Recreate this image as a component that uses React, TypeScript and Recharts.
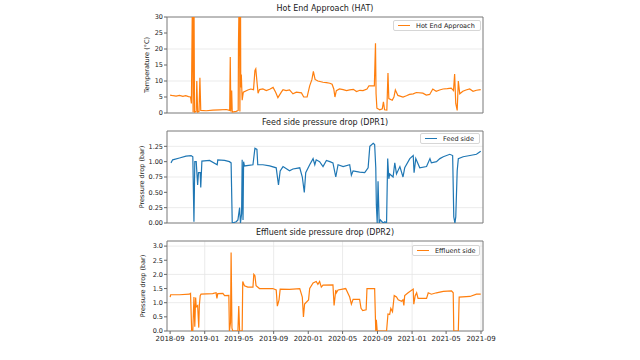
import React from 'react';
import { LineChart, Line, XAxis, YAxis, CartesianGrid, ReferenceArea } from 'recharts';

const FONT = '"DejaVu Sans", sans-serif';
const ORANGE = '#ff7f0e';
const BLUE = '#1f77b4';

const xTickLabels = ['2018-09', '2019-01', '2019-05', '2019-09', '2020-01', '2020-05', '2020-09', '2021-01', '2021-05', '2021-09'];
const xStart = '2018-08-21';
const xEnd = '2021-09-08';

const hatDates = [
  '2018-09-01', '2018-09-12', '2018-09-22', '2018-10-04', '2018-10-16', '2018-10-26', '2018-11-05', '2018-11-12',
  '2018-11-15', '2018-11-19', '2018-11-21', '2018-11-24', '2018-11-26', '2018-12-02', '2018-12-04', '2018-12-07',
  '2018-12-12', '2018-12-15', '2018-12-18', '2019-01-06', '2019-01-30', '2019-02-22', '2019-03-18', '2019-03-30',
  '2019-04-01', '2019-04-03', '2019-04-06', '2019-04-08', '2019-04-22', '2019-04-29', '2019-04-30', '2019-05-03',
  '2019-05-05', '2019-05-07', '2019-05-08', '2019-05-10', '2019-05-13', '2019-05-17', '2019-06-02', '2019-06-12',
  '2019-06-22', '2019-06-27', '2019-06-30', '2019-07-05', '2019-07-08', '2019-07-13', '2019-07-25', '2019-08-06',
  '2019-08-18', '2019-08-30', '2019-09-08', '2019-09-16', '2019-09-28', '2019-10-04', '2019-10-15', '2019-10-27',
  '2019-11-08', '2019-11-20', '2019-12-08', '2019-12-16', '2019-12-28', '2020-01-06', '2020-01-14', '2020-01-19',
  '2020-01-25', '2020-02-04', '2020-02-22', '2020-03-05', '2020-03-17', '2020-03-25', '2020-03-31', '2020-04-04',
  '2020-04-09', '2020-04-20', '2020-05-03', '2020-05-15', '2020-05-26', '2020-06-08', '2020-06-19', '2020-07-01',
  '2020-07-12', '2020-07-26', '2020-08-02', '2020-08-21', '2020-08-25', '2020-08-27', '2020-08-30', '2020-09-09',
  '2020-09-18', '2020-09-22', '2020-09-26', '2020-10-04', '2020-10-08', '2020-10-11', '2020-10-23', '2020-10-29',
  '2020-11-03', '2020-11-12', '2020-11-30', '2020-12-12', '2020-12-23', '2021-01-05', '2021-01-16', '2021-02-08',
  '2021-02-20', '2021-03-04', '2021-03-15', '2021-03-27', '2021-04-08', '2021-04-20', '2021-05-05', '2021-05-19',
  '2021-05-27', '2021-05-31', '2021-06-04', '2021-06-09', '2021-06-13', '2021-06-18', '2021-06-29', '2021-07-10',
  '2021-07-23', '2021-08-04', '2021-08-16', '2021-08-31',
];
const hatValues = [
  5.6, 5.4, 5.3, 5.5, 5.2, 5.4, 5.1, 5.0,
  3.0, 40, 0.2, 40, 0.3, 0.5, 10, 0.3,
  0.5, 11, 0.8, 0.7, 0.9, 1.0, 1.1, 0.8,
  17.5, 0.5, 7, 0.3, 0.5, 0.8, 22, 40,
  0.5, 40, 8, 12, 4, 6.5, 7.2, 7.5,
  7.3, 13.3, 13.8, 9, 6.2, 7.3, 7.5, 7.0,
  7.4, 8.0, 6.5, 4.8, 6.5, 7.3, 7.0, 7.2,
  6.0, 6.5, 6.3, 5.0, 5.0, 8.5, 10.5, 13,
  10.5, 10, 9.6, 9.5, 9.3, 9, 7.5, 5,
  7.0, 7.5, 7.3, 7.0, 7.2, 7.4, 6.7, 7.1,
  7.0, 7.5, 8.5, 8.5, 21.8, 6, 1.5, 1.0,
  1.3, 3.5, 1.0, 0.9, 12.5, 4.5, 4, 5,
  7.2, 5.5, 5.0, 5.4, 5.8, 6.0, 6.4, 6.2,
  5.6, 5.8, 7.5, 6.8, 7.2, 7.5, 7.6, 7.8,
  7.0, 12.2, 3, 0.8, 10, 6, 6.8, 7.2,
  7.5, 6.8, 7.1, 7.3,
];

const dpr1Dates = [
  '2018-09-04', '2018-09-10', '2018-10-04', '2018-10-27', '2018-11-14', '2018-11-20', '2018-11-24', '2018-11-27',
  '2018-12-02', '2018-12-07', '2018-12-10', '2018-12-16', '2018-12-18', '2018-12-22', '2019-01-18', '2019-02-14',
  '2019-02-16', '2019-03-12', '2019-03-29', '2019-04-04', '2019-04-08', '2019-04-22', '2019-04-28', '2019-05-04',
  '2019-05-07', '2019-05-11', '2019-05-13', '2019-05-16', '2019-05-18', '2019-05-21', '2019-06-20', '2019-06-27',
  '2019-07-04', '2019-07-07', '2019-07-25', '2019-08-18', '2019-09-10', '2019-09-18', '2019-09-24', '2019-10-04',
  '2019-10-27', '2019-11-08', '2019-12-02', '2019-12-11', '2019-12-18', '2019-12-23', '2020-01-06', '2020-01-18',
  '2020-01-24', '2020-01-29', '2020-02-10', '2020-02-22', '2020-03-05', '2020-03-17', '2020-03-28', '2020-04-07',
  '2020-04-15', '2020-05-03', '2020-05-26', '2020-06-01', '2020-06-07', '2020-06-30', '2020-07-18', '2020-07-30',
  '2020-08-05', '2020-08-17', '2020-08-22', '2020-08-26', '2020-08-28', '2020-08-31', '2020-09-03', '2020-09-07',
  '2020-09-11', '2020-09-21', '2020-09-27', '2020-10-03', '2020-10-07', '2020-10-11', '2020-10-14', '2020-10-26',
  '2020-11-01', '2020-11-07', '2020-11-19', '2020-11-30', '2020-12-06', '2020-12-24', '2021-01-05', '2021-01-08',
  '2021-01-14', '2021-01-28', '2021-02-21', '2021-03-05', '2021-03-10', '2021-03-28', '2021-04-09', '2021-04-21',
  '2021-05-14', '2021-05-24', '2021-05-28', '2021-06-01', '2021-06-04', '2021-06-09', '2021-06-13', '2021-06-30',
  '2021-07-24', '2021-08-16', '2021-08-31',
];
const dpr1Values = [
  0.98, 1.03, 1.06, 1.09, 1.10, 1.08, 0.02, 1.0,
  1.0, 0.62, 0.82, 0.82, 0.58, 1.01, 1.02, 0.95,
  1.03, 1.02, 1.0, 0.98, 0.0, 0.02, 0.05, 0.25,
  0.0, 0.15, 1.03, 0.05, 1.0, 0.93, 0.95, 1.22,
  1.2, 0.95, 0.95, 0.93, 0.9, 0.62, 0.85, 0.92,
  0.85, 0.88, 0.9, 0.75, 0.5, 0.82, 0.95, 1.05,
  0.95, 1.03, 1.0, 0.92, 1.02, 1.0, 0.98, 0.75,
  0.95, 0.92, 0.95, 0.78, 0.85, 0.83, 0.82, 0.9,
  1.25, 1.30, 1.28, 0.9, 0.3, 0.0, 0.68, 0.0,
  0.05, 0.0, 0.02, 0.0, 1.05, 0.72, 0.8, 0.75,
  0.98, 0.8, 0.92, 0.75, 0.9, 1.05, 1.1, 0.82,
  1.05, 0.9, 0.92, 1.05, 0.98, 1.0, 1.05, 1.08,
  1.12, 1.1, 0.1, 0.0, 0.1, 0.85, 1.05, 1.08,
  1.1, 1.12, 1.17,
];

const dpr2Dates = [
  '2018-09-01', '2018-09-03', '2018-10-04', '2018-11-08', '2018-11-12', '2018-11-16', '2018-11-20', '2018-11-24',
  '2018-11-27', '2018-11-30', '2018-12-02', '2018-12-07', '2018-12-11', '2018-12-13', '2018-12-16', '2018-12-19',
  '2019-01-29', '2019-02-10', '2019-02-13', '2019-02-16', '2019-03-06', '2019-03-12', '2019-03-27', '2019-03-29',
  '2019-04-02', '2019-04-04', '2019-04-07', '2019-04-10', '2019-04-28', '2019-05-01', '2019-05-04', '2019-05-13',
  '2019-05-15', '2019-05-21', '2019-06-02', '2019-06-20', '2019-06-23', '2019-06-27', '2019-07-01', '2019-07-13',
  '2019-08-29', '2019-09-10', '2019-09-14', '2019-09-20', '2019-09-24', '2019-10-27', '2019-12-02', '2019-12-11',
  '2019-12-15', '2019-12-19', '2020-01-02', '2020-01-06', '2020-01-18', '2020-01-29', '2020-02-04', '2020-02-10',
  '2020-02-16', '2020-02-22', '2020-03-28', '2020-04-01', '2020-04-07', '2020-04-09', '2020-04-15', '2020-05-12',
  '2020-05-26', '2020-06-01', '2020-06-07', '2020-06-30', '2020-07-05', '2020-07-11', '2020-07-23', '2020-07-26',
  '2020-08-22', '2020-08-26', '2020-08-28', '2020-08-31', '2020-10-03', '2020-10-08', '2020-10-14', '2020-10-18',
  '2020-10-24', '2020-10-30', '2020-11-07', '2020-11-13', '2020-11-25', '2020-11-30', '2020-12-03', '2020-12-06',
  '2020-12-18', '2021-01-05', '2021-01-07', '2021-01-12', '2021-01-17', '2021-01-22', '2021-02-21', '2021-02-27',
  '2021-03-10', '2021-03-28', '2021-04-21', '2021-05-20', '2021-05-26', '2021-05-28', '2021-06-13', '2021-06-16',
  '2021-07-24', '2021-08-16', '2021-08-31',
];
const dpr2Values = [
  1.2, 1.28, 1.28, 1.3, 1.33, 0.0, 0.0, 1.2,
  0.15, 1.18, 0.85, 0.9, 0.12, 0.9, 1.25, 1.3,
  1.32, 1.35, 1.15, 1.32, 1.33, 1.25, 1.26, 0.0,
  0.3, 2.77, 0.1, 0.0, 0.0, 0.88, 0.0, 0.0,
  1.75, 1.6, 1.55, 1.55, 2.0, 1.95, 1.6, 1.5,
  1.5, 1.45, 0.88, 1.1, 1.48, 1.47, 1.5, 1.2,
  0.5, 0.95, 1.1, 1.5, 1.7, 1.75, 1.65, 1.75,
  1.55, 1.62, 1.63, 0.9, 1.45, 1.35, 1.45, 1.5,
  1.2, 0.95, 1.12, 1.12, 0.8, 0.72, 0.75, 1.5,
  1.5, 0.0, 0.4, 0.0, 0.0, 0.6, 0.58, 0.8,
  0.68, 1.25, 1.2, 1.1, 1.05, 1.1, 0.9, 1.25,
  1.35, 1.48, 0.95, 1.25, 1.35, 1.15, 1.15, 1.35,
  1.3, 1.35, 1.4, 1.42, 1.35, 0.0, 0.0, 1.2,
  1.22, 1.3, 1.3,
];

const hatTicks = [0, 5, 10, 15, 20, 25, 30];
const dpr1Ticks = [0, 0.25, 0.5, 0.75, 1.0, 1.25];
const dpr2Ticks = [0, 0.5, 1.0, 1.5, 2.0, 2.5, 3.0];

const toT = (d: string) => Date.parse(d);
const xTicks = xTickLabels.map((m) => toT(m + '-01'));
const xDomain = [toT(xStart), toT(xEnd)];

const build = (dates: string[], values: number[]) => dates.map((d, i) => ({ t: toT(d), v: values[i] }));

interface PanelProps {
  top: number;
  height: number;
  data: { t: number; v: number }[];
  color: string;
  yDomain: number[];
  yTicks: number[];
  yDecimals: number;
  title: string;
  yLabel: string;
  yLabelX: number;
  legend: string;
  legendBox: { left: number; top: number; width: number };
  showXLabels: boolean;
}

const Panel: React.FC<PanelProps> = (p) => {
  const xAxisH = p.showXLabels ? 20 : 12;
  const plotTop = p.top + 17;
  const plotBottom = p.top + p.height - xAxisH;
  return (
    <>
      <div style={{ position: 'absolute', left: 167, width: 316, top: p.top + 4, textAlign: 'center', fontSize: 8, color: '#222' }}>
        {p.title}
      </div>
      <div
        style={{
          position: 'absolute',
          left: p.yLabelX,
          top: (plotTop + plotBottom) / 2,
          transform: 'translate(-50%, -50%) rotate(-90deg)',
          whiteSpace: 'nowrap',
          fontSize: 6.5,
          color: '#222',
        }}
      >
        {p.yLabel}
      </div>
      <div style={{ position: 'absolute', left: 0, top: p.top }}>
        <LineChart width={640} height={p.height} data={p.data} margin={{ top: 17, right: 157, left: 0, bottom: 0 }}>
          <CartesianGrid stroke="#e6e6e6" strokeWidth={0.8} />
          <XAxis
            dataKey="t"
            type="number"
            domain={xDomain}
            ticks={xTicks}
            allowDataOverflow
            height={xAxisH}
            tick={p.showXLabels ? { fontSize: 7, fill: '#222', fontFamily: FONT } : false}
            tickFormatter={(t: number) => new Date(t).toISOString().slice(0, 7)}
            tickSize={3}
            tickMargin={2}
            stroke="#666"
            axisLine={false}
          />
          <YAxis
            type="number"
            domain={p.yDomain}
            ticks={p.yTicks}
            allowDataOverflow
            width={167}
            tick={{ fontSize: 6.5, fill: '#222', fontFamily: FONT }}
            tickFormatter={(v: number) => (p.yDecimals === 0 ? String(v) : v.toFixed(p.yDecimals))}
            tickSize={3}
            tickMargin={1}
            stroke="#666"
            axisLine={false}
          />
          <ReferenceArea
            x1={xDomain[0]}
            x2={xDomain[1]}
            y1={p.yDomain[0]}
            y2={p.yDomain[1]}
            fill="none"
            fillOpacity={0}
            stroke="#777"
            strokeWidth={0.9}
          />
          <Line type="linear" dataKey="v" stroke={p.color} strokeWidth={1.2} dot={false} isAnimationActive={false} />
        </LineChart>
      </div>
      <div
        style={{
          position: 'absolute',
          left: p.legendBox.left,
          top: p.legendBox.top,
          width: p.legendBox.width,
          height: 11,
          border: '0.8px solid #d6d6d6',
          borderRadius: 2,
          background: 'rgba(255,255,255,0.85)',
          display: 'flex',
          alignItems: 'center',
          fontSize: 6.5,
          color: '#222',
          boxSizing: 'border-box',
        }}
      >
        <div style={{ width: 12, height: 1.3, background: p.color, marginLeft: 4, marginRight: 6 }} />
        {p.legend}
      </div>
    </>
  );
};

export default function App() {
  return (
    <div style={{ position: 'absolute', left: 0, top: 0, width: 640, height: 360, background: '#fff', fontFamily: FONT, overflow: 'hidden' }}>
      <Panel
        top={0}
        height={125}
        data={build(hatDates, hatValues)}
        color={ORANGE}
        yDomain={[0, 30]}
        yTicks={hatTicks}
        yDecimals={0}
        title="Hot End Approach (HAT)"
        yLabel="Temperature (°C)"
        yLabelX={147}
        legend="Hot End Approach"
        legendBox={{ left: 393, top: 20, width: 88 }}
        showXLabels={false}
      />
      <Panel
        top={114}
        height={121}
        data={build(dpr1Dates, dpr1Values)}
        color={BLUE}
        yDomain={[0, 1.5]}
        yTicks={dpr1Ticks}
        yDecimals={2}
        title="Feed side pressure drop (DPR1)"
        yLabel="Pressure drop (bar)"
        yLabelX={142}
        legend="Feed side"
        legendBox={{ left: 420, top: 133, width: 60 }}
        showXLabels={false}
      />
      <Panel
        top={224}
        height={127}
        data={build(dpr2Dates, dpr2Values)}
        color={ORANGE}
        yDomain={[0, 3.18]}
        yTicks={dpr2Ticks}
        yDecimals={1}
        title="Effluent side pressure drop (DPR2)"
        yLabel="Pressure drop (bar)"
        yLabelX={143}
        legend="Effluent side"
        legendBox={{ left: 412, top: 245, width: 68 }}
        showXLabels
      />
    </div>
  );
}
